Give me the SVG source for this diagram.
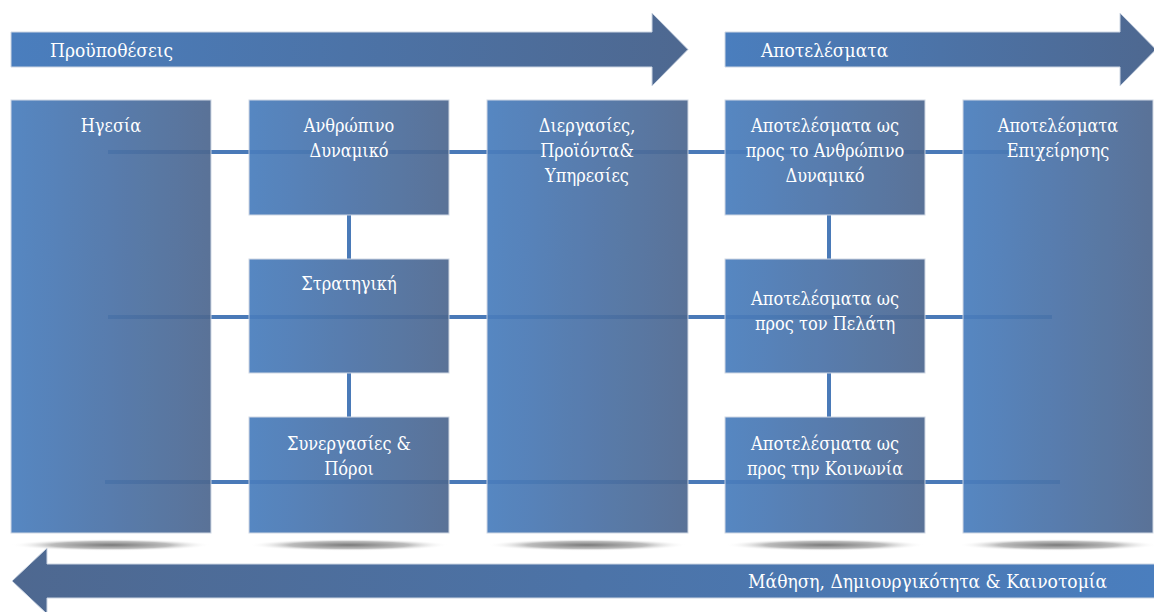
<svg xmlns="http://www.w3.org/2000/svg" width="1154" height="612" viewBox="0 0 1154 612">
<defs>
<linearGradient id="gBox" x1="0" y1="0" x2="1" y2="0">
<stop offset="0" stop-color="#4a7ebe"/>
<stop offset="1" stop-color="#4e6890"/>
</linearGradient>
<linearGradient id="gRev" x1="0" y1="0" x2="1" y2="0">
<stop offset="0" stop-color="#4e6890"/>
<stop offset="1" stop-color="#4a7ebe"/>
</linearGradient>
<radialGradient id="gSh" cx="0.5" cy="0.5" r="0.5">
<stop offset="0" stop-color="#7a7a7a"/>
<stop offset="0.6" stop-color="#bdbdbd"/>
<stop offset="1" stop-color="#ffffff" stop-opacity="0"/>
</radialGradient>
<style>
.box{fill:url(#gBox);stroke:#cdd6e3;stroke-width:1;opacity:0.93}
.arr{fill:url(#gBox);stroke:#cdd6e3;stroke-width:1}
.arrR{fill:url(#gRev);stroke:#cdd6e3;stroke-width:1}
.ln{stroke:#4a7ab8;stroke-width:4;fill:none}
.t{font-family:"DejaVu Serif Condensed","DejaVu Serif","Liberation Serif",serif;font-size:18px;fill:#ffffff;text-anchor:middle}
.tl{font-family:"DejaVu Serif Condensed","DejaVu Serif","Liberation Serif",serif;font-size:19px;fill:#ffffff}
.sh{fill:url(#gSh)}
</style>
</defs>
<rect width="1154" height="612" fill="#ffffff"/>

<g id="arrow-prerequisites">
<path class="arr" d="M11,32 H652 V13 L688,49.5 L652,86 V67 H11 Z"/>
<text class="tl" x="50" y="57">Προϋποθέσεις</text>
</g>
<g id="arrow-results">
<path class="arr" d="M725,32 H1120 V13 L1156,49.5 L1120,86 V67 H725 Z"/>
<text class="tl" x="761" y="57">Αποτελέσματα</text>
</g>

<g id="shadows">
<ellipse class="sh" cx="111" cy="545" rx="100" ry="6"/>
<ellipse class="sh" cx="349" cy="545" rx="100" ry="6"/>
<ellipse class="sh" cx="587" cy="545" rx="100" ry="6"/>
<ellipse class="sh" cx="825" cy="545" rx="100" ry="6"/>
<ellipse class="sh" cx="1058" cy="545" rx="100" ry="6"/>
</g>

<g id="connectors">
<line class="ln" x1="108" y1="152" x2="1052" y2="152"/>
<line class="ln" x1="108" y1="317" x2="1052" y2="317"/>
<line class="ln" x1="105" y1="482" x2="1060" y2="482"/>
<line class="ln" x1="349" y1="215" x2="349" y2="259"/>
<line class="ln" x1="349" y1="373" x2="349" y2="417"/>
<line class="ln" x1="829" y1="215" x2="829" y2="259"/>
<line class="ln" x1="829" y1="373" x2="829" y2="417"/>
</g>

<g id="leadership">
<rect class="box" x="11" y="100" width="200" height="433"/>
<text class="t" x="111" y="132">Ηγεσία</text>
</g>
<g id="human-resources">
<rect class="box" x="249" y="100" width="200" height="115"/>
<text class="t" x="349" y="132">Ανθρώπινο</text>
<text class="t" x="349" y="157">Δυναμικό</text>
</g>
<g id="strategy">
<rect class="box" x="249" y="259" width="200" height="114"/>
<text class="t" x="349" y="290">Στρατηγική</text>
</g>
<g id="partnerships">
<rect class="box" x="249" y="417" width="200" height="116"/>
<text class="t" x="349" y="450">Συνεργασίες &amp;</text>
<text class="t" x="349" y="475">Πόροι</text>
</g>
<g id="processes">
<rect class="box" x="487" y="100" width="201" height="433"/>
<text class="t" x="587" y="132">Διεργασίες,</text>
<text class="t" x="587" y="157">Προϊόντα&amp;</text>
<text class="t" x="587" y="182">Υπηρεσίες</text>
</g>
<g id="results-people">
<rect class="box" x="725" y="100" width="200" height="115"/>
<text class="t" x="825" y="132">Αποτελέσματα ως</text>
<text class="t" x="825" y="157">προς το Ανθρώπινο</text>
<text class="t" x="825" y="182">Δυναμικό</text>
</g>
<g id="results-customer">
<rect class="box" x="725" y="259" width="200" height="114"/>
<text class="t" x="825" y="305">Αποτελέσματα ως</text>
<text class="t" x="825" y="330">προς τον Πελάτη</text>
</g>
<g id="results-society">
<rect class="box" x="725" y="417" width="200" height="116"/>
<text class="t" x="825" y="450">Αποτελέσματα ως</text>
<text class="t" x="825" y="475">προς την Κοινωνία</text>
</g>
<g id="business-results">
<rect class="box" x="963" y="100" width="190" height="433"/>
<text class="t" x="1058" y="132">Αποτελέσματα</text>
<text class="t" x="1058" y="157">Επιχείρησης</text>
</g>

<g id="arrow-learning">
<path class="arrR" d="M1155,564 H47 V548 L12,581 L47,614 V598 H1155 Z"/>
<text class="tl" x="1107" y="588" text-anchor="end">Μάθηση, Δημιουργικότητα &amp; Καινοτομία</text>
</g>
</svg>
